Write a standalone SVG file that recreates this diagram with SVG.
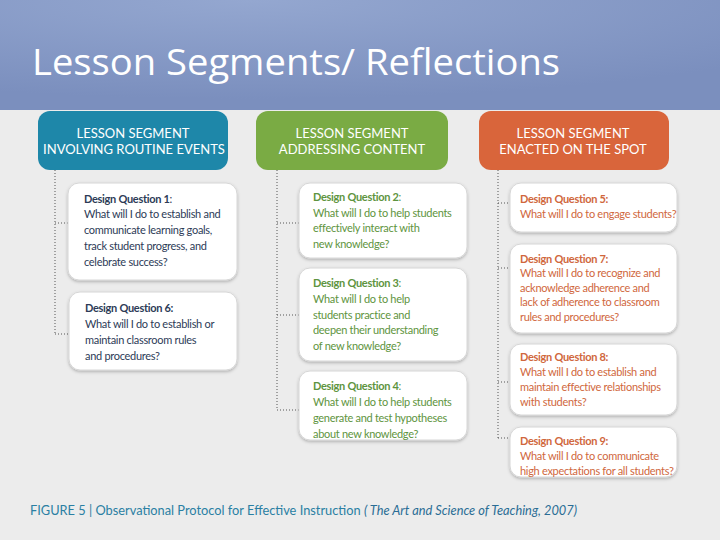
<svg xmlns="http://www.w3.org/2000/svg" width="720" height="540" viewBox="0 0 720 540">
<defs>
<radialGradient id="hdr" cx="0.35" cy="0" r="0.9">
<stop offset="0" stop-color="#94a7d0"/>
<stop offset="1" stop-color="#7b8fbe"/>
</radialGradient>
<filter id="sh" x="-10%" y="-10%" width="120%" height="130%">
<feDropShadow dx="0" dy="1.5" stdDeviation="1.5" flood-color="#000" flood-opacity="0.25"/>
</filter>
<style>
.title{font-family:"Open Sans","Liberation Sans",sans-serif;font-size:36px;fill:#fff}
.seg{font-family:"Lato","Liberation Sans",sans-serif;font-size:13px;fill:#fff;text-anchor:middle}
.box{fill:#fff;stroke:#d6d6d6;stroke-width:1;filter:url(#sh)}
.q{font-family:"Lato","Liberation Sans",sans-serif;font-size:11px;letter-spacing:-0.3px}
.q .b{font-weight:bold}
.t1{fill:#2d3b57}
.t2{fill:#5e9440}
.t3{fill:#d0673d}
.dot{fill:none;stroke:#555;stroke-width:1;stroke-dasharray:1 2}
.foot{font-family:"Lato","Liberation Sans",sans-serif;font-size:12.8px;fill:#2a7fa3}
</style>
</defs>
<rect width="720" height="540" fill="#ececec"/>
<rect width="720" height="110" fill="url(#hdr)"/>
<text class="title" x="32" y="75" textLength="528" lengthAdjust="spacingAndGlyphs">Lesson Segments/ Reflections</text>

<g id="connectors">
<path class="dot" d="M55 170V334M55 223H68M55 334H69"/>
<path class="dot" d="M277 170V410M277 223H299M277 315H299M277 410H299"/>
<path class="dot" d="M498 170V438M498 203H510M498 268H510M498 382H510M498 438H510"/>
</g>

<g id="seg1">
<rect x="38" y="111" width="190" height="59" rx="12" fill="#1e87a9"/>
<text class="seg" x="133" y="138">LESSON SEGMENT</text>
<text class="seg" x="134" y="154">INVOLVING ROUTINE EVENTS</text>
</g>
<g id="seg2">
<rect x="256" y="111" width="192" height="59" rx="12" fill="#7aab44"/>
<text class="seg" x="352" y="138">LESSON SEGMENT</text>
<text class="seg" x="352" y="154">ADDRESSING CONTENT</text>
</g>
<g id="seg3">
<rect x="479" y="111" width="190" height="59" rx="12" fill="#d9653b"/>
<text class="seg" x="573" y="138">LESSON SEGMENT</text>
<text class="seg" x="573" y="154">ENACTED ON THE SPOT</text>
</g>

<g id="dq1">
<rect class="box" x="68" y="183" width="169" height="97" rx="11"/>
<text class="q t1"><tspan class="b" x="84" y="203">Design Question 1</tspan><tspan>:</tspan><tspan x="84" y="218">What will I do to establish and</tspan><tspan x="84" y="234">communicate learning goals,</tspan><tspan x="84" y="250">track student progress, and</tspan><tspan x="84" y="266">celebrate success?</tspan></text>
</g>
<g id="dq6">
<rect class="box" x="69" y="292" width="168" height="78" rx="11"/>
<text class="q t1"><tspan class="b" x="85" y="312">Design Question 6:</tspan><tspan x="85" y="328">What will I do to establish or</tspan><tspan x="85" y="344">maintain classroom rules</tspan><tspan x="85" y="360">and procedures?</tspan></text>
</g>

<g id="dq2">
<rect class="box" x="299" y="183" width="168" height="75" rx="11"/>
<text class="q t2"><tspan class="b" x="313" y="201">Design Question 2</tspan><tspan>:</tspan><tspan x="313" y="217">What will I do to help students</tspan><tspan x="313" y="232">effectively interact with</tspan><tspan x="313" y="248">new knowledge?</tspan></text>
</g>
<g id="dq3">
<rect class="box" x="299" y="268" width="168" height="93" rx="11"/>
<text class="q t2"><tspan class="b" x="313" y="287">Design Question 3</tspan><tspan>:</tspan><tspan x="313" y="303">What will I do to help</tspan><tspan x="313" y="319">students practice and</tspan><tspan x="313" y="334">deepen their understanding</tspan><tspan x="313" y="350">of new knowledge?</tspan></text>
</g>
<g id="dq4">
<rect class="box" x="299" y="371" width="168" height="69" rx="11"/>
<text class="q t2"><tspan class="b" x="313" y="390">Design Question 4</tspan><tspan>:</tspan><tspan x="313" y="406">What will I do to help students</tspan><tspan x="313" y="422">generate and test hypotheses</tspan><tspan x="313" y="438">about new knowledge?</tspan></text>
</g>

<g id="dq5">
<rect class="box" x="510" y="183" width="167" height="49" rx="11"/>
<text class="q t3"><tspan class="b" x="520" y="203">Design Question 5:</tspan><tspan x="520" y="218">What will I do to engage students?</tspan></text>
</g>
<g id="dq7">
<rect class="box" x="510" y="244" width="167" height="89" rx="11"/>
<text class="q t3"><tspan class="b" x="520" y="263">Design Question 7:</tspan><tspan x="520" y="277">What will I do to recognize and</tspan><tspan x="520" y="292">acknowledge adherence and</tspan><tspan x="520" y="306">lack of adherence to classroom</tspan><tspan x="520" y="321">rules and procedures?</tspan></text>
</g>
<g id="dq8">
<rect class="box" x="510" y="344" width="167" height="71" rx="11"/>
<text class="q t3"><tspan class="b" x="520" y="361">Design Question 8:</tspan><tspan x="520" y="376">What will I do to establish and</tspan><tspan x="520" y="391">maintain effective relationships</tspan><tspan x="520" y="406">with students?</tspan></text>
</g>
<g id="dq9">
<rect class="box" x="510" y="427" width="167" height="50" rx="11"/>
<text class="q t3"><tspan class="b" x="520" y="445">Design Question 9:</tspan><tspan x="520" y="460">What will I do to communicate</tspan><tspan x="520" y="475">high expectations for all students?</tspan></text>
</g>

<text class="foot" x="30" y="515">FIGURE 5 | Observational Protocol for Effective Instruction <tspan font-style="italic" fill="#2a6d95">( The Art and Science of Teaching, 2007)</tspan></text>
</svg>
